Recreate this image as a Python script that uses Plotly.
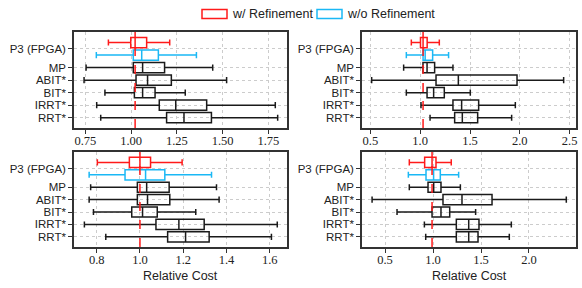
import plotly.graph_objects as go

planners = ["MP", "ABIT*", "BIT*", "IRRT*", "RRT*"]
p3_label = "P3 (FPGA)"

# stats per panel: [lowerfence, q1, median, q3, upperfence]
# panel order: top-left, top-right, bottom-left, bottom-right
red_stats = [
    [0.876, 0.998, 1.022, 1.085, 1.211],
    [0.911, 1.003, 1.029, 1.070, 1.192],
    [0.803, 0.951, 1.000, 1.049, 1.195],
    [0.753, 0.913, 0.990, 1.031, 1.190],
]
blue_stats = [
    [0.810, 1.012, 1.058, 1.149, 1.357],
    [0.861, 1.029, 1.050, 1.125, 1.285],
    [0.765, 0.931, 1.026, 1.115, 1.331],
    [0.743, 0.927, 1.006, 1.076, 1.267],
]
# each: list over planners of [low, q1, med, q3, high]
planner_stats = [
    [[0.754, 1.012, 1.063, 1.183, 1.446],
     [0.743, 1.027, 1.090, 1.220, 1.522],
     [0.857, 1.018, 1.063, 1.131, 1.296],
     [0.812, 1.154, 1.244, 1.413, 1.788],
     [0.834, 1.194, 1.289, 1.439, 1.801]],
    [[0.834, 1.028, 1.069, 1.145, 1.329],
     [0.513, 1.159, 1.383, 1.972, 2.440],
     [0.861, 1.069, 1.135, 1.242, 1.503],
     [1.008, 1.329, 1.416, 1.587, 1.955],
     [1.099, 1.346, 1.423, 1.577, 1.918]],
    [[0.772, 0.988, 1.031, 1.135, 1.354],
     [0.765, 0.988, 1.035, 1.138, 1.366],
     [0.785, 0.962, 1.012, 1.080, 1.258],
     [0.743, 1.074, 1.180, 1.297, 1.635],
     [0.842, 1.128, 1.211, 1.320, 1.608]],
    [[0.753, 0.948, 1.007, 1.083, 1.285],
     [0.365, 1.104, 1.302, 1.615, 2.389],
     [0.625, 0.990, 1.083, 1.174, 1.444],
     [0.910, 1.243, 1.372, 1.479, 1.816],
     [0.924, 1.243, 1.372, 1.469, 1.795]],
]
x_ranges = [[0.688, 1.852], [0.416, 2.564], [0.695, 1.68], [0.26, 2.49]]
x_ticks = [[0.75, 1.00, 1.25, 1.50, 1.75], [0.5, 1.0, 1.5, 2.0, 2.5],
           [0.8, 1.0, 1.2, 1.4, 1.6], [0.5, 1.0, 1.5, 2.0]]
x_fmt = [".2f", ".1f", ".1f", ".1f"]
legend_names = ["w/ Refinement", "w/o Refinement"]
axis_title = "Relative Cost"

RED = "#ff1a1a"
BLUE = "#1ab8f5"
BLACK = "#1a1a1a"
W, H = 582, 288

x_domains = [[74 / W, 287 / W], [362 / W, 576 / W]] * 2
y_domains = [[160 / H, 256 / H]] * 2 + [[41 / H, 136 / H]] * 2

fig = go.Figure()
sans = "Liberation Sans"
serif = "Liberation Serif"

box_w = 0.82
ww = 0.6

for i in range(4):
    xa = "x" if i == 0 else f"x{i+1}"
    ya = "y" if i == 0 else f"y{i+1}"
    for stats, color, pos in [(red_stats[i], RED, 0), (blue_stats[i], BLUE, 1)]:
        fig.add_trace(go.Box(
            orientation="h", y=[pos], lowerfence=[stats[0]], q1=[stats[1]],
            median=[stats[2]], q3=[stats[3]], upperfence=[stats[4]],
            line=dict(color=color, width=1.5), fillcolor="rgba(0,0,0,0)",
            width=box_w, whiskerwidth=ww, showlegend=False, xaxis=xa, yaxis=ya,
            hoverinfo="skip"))
    ps = planner_stats[i]
    fig.add_trace(go.Box(
        orientation="h", y=list(range(2, 2 + len(planners))),
        lowerfence=[s[0] for s in ps], q1=[s[1] for s in ps],
        median=[s[2] for s in ps], q3=[s[3] for s in ps],
        upperfence=[s[4] for s in ps],
        line=dict(color=BLACK, width=1.5), fillcolor="rgba(0,0,0,0)",
        width=box_w, whiskerwidth=ww, showlegend=False, xaxis=xa, yaxis=ya,
        hoverinfo="skip"))
    # dashed red line at median of w/ refinement
    fig.add_shape(type="line", xref=xa, yref=f"{ya} domain",
                  x0=red_stats[i][2], x1=red_stats[i][2], y0=0, y1=1,
                  line=dict(color=RED, width=1.5, dash="dash"))

    common_x = dict(
        domain=x_domains[i], range=x_ranges[i], tickvals=x_ticks[i],
        tickformat=x_fmt[i], showline=True, mirror=True, linecolor="#333333",
        linewidth=1.5, ticks="outside", ticklen=4, tickwidth=1.2,
        tickcolor="#333333", showgrid=True, gridcolor="#cccccc",
        griddash="dot", gridwidth=1, zeroline=False, automargin=False,
        ticklabelstandoff=-4,
        tickfont=dict(family=serif, size=12.5, color="#222222"),
        anchor=ya)
    common_y = dict(
        domain=y_domains[i], range=[6.82, -0.84],
        tickvals=[0.5] + list(range(2, 2 + len(planners))),
        ticktext=[p3_label] + planners,
        showline=True, mirror=True, linecolor="#333333", linewidth=1.5,
        ticks="outside", ticklen=4, tickwidth=1.2, tickcolor="#333333",
        showgrid=True, gridcolor="#cccccc", griddash="dot", gridwidth=1,
        zeroline=False, automargin=False,
        tickfont=dict(family=sans, size=11.5, color="#222222"),
        anchor=xa)
    fig.update_layout(**{("xaxis" if i == 0 else f"xaxis{i+1}"): common_x,
                         ("yaxis" if i == 0 else f"yaxis{i+1}"): common_y})

# axis titles under bottom panels
for i in (2, 3):
    d = x_domains[i]
    fig.add_annotation(text=axis_title, xref="paper", yref="paper",
                       x=(d[0] + d[1]) / 2, y=(H - 276) / H,
                       xanchor="center", yanchor="middle", showarrow=False,
                       font=dict(family=sans, size=12.5, color="#222222"))

# legend drawn manually
legend_items = [(legend_names[0], RED, 202), (legend_names[1], BLUE, 317)]
for name, color, x0 in legend_items:
    fig.add_shape(type="rect", xref="paper", yref="paper",
                  x0=x0 / W, x1=(x0 + 25) / W, y0=(H - 18.5) / H, y1=(H - 9.5) / H,
                  line=dict(color=color, width=1.5), fillcolor="white")
    fig.add_annotation(text=name, xref="paper", yref="paper",
                       x=(x0 + 28) / W, y=(H - 14) / H, xanchor="left",
                       yanchor="middle", showarrow=False,
                       font=dict(family=sans, size=12.5, color="#222222"))

fig.update_layout(width=W, height=H, margin=dict(l=0, r=0, t=0, b=0),
                  paper_bgcolor="white", plot_bgcolor="white", showlegend=False)

fig.write_html(
    "out.html",
    config={"displayModeBar": False},
    post_script="document.body.style.margin='0';document.body.style.padding='0';"
                "document.body.style.overflow='hidden';",
)
